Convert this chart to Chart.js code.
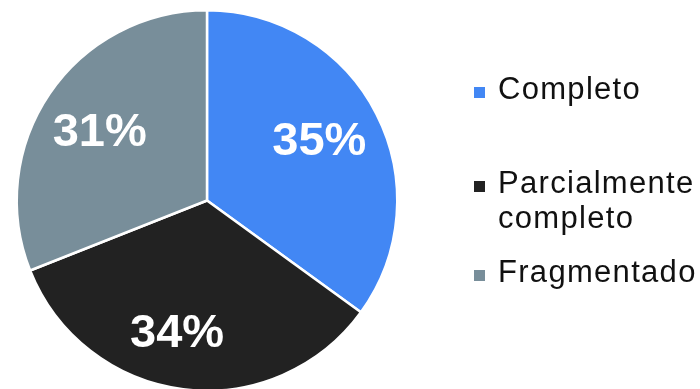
<!DOCTYPE html>
<html>
<head>
<meta charset="utf-8">
<script src="https://cdn.jsdelivr.net/npm/chart.js@4"></script>
<style>
  html, body { margin: 0; padding: 0; background: #fff; overflow: hidden; }
  #wrap { width: 700px; height: 396px; position: relative; }
</style>
</head>
<body>
<div id="wrap"><canvas id="c" width="700" height="396"></canvas></div>
<script>
const categories = ["Completo", "Parcialmente completo", "Fragmentado"];
const legendLines = [["Completo"], ["Parcialmente", "completo"], ["Fragmentado"]];
const values = [35, 34, 31];
const valueLabels = ["35%", "34%", "31%"];
const colors = ["#4287F4", "#222222", "#788E9A"];

const sliceLabels = {
  id: 'sliceLabels',
  afterDatasetsDraw(chart, args, opts) {
    const ctx = chart.ctx;
    const meta = chart.getDatasetMeta(0);
    ctx.save();
    ctx.fillStyle = '#ffffff';
    ctx.font = 'bold 47px "Liberation Sans", Arial, sans-serif';
    ctx.textAlign = 'center';
    ctx.textBaseline = 'middle';
    meta.data.forEach((arc, i) => {
      const p = arc.getProps(['x', 'y', 'startAngle', 'endAngle', 'outerRadius'], true);
      const mid = (p.startAngle + p.endAngle) / 2 + opts.angleShift[i] * Math.PI / 180;
      const r = p.outerRadius * opts.radial[i];
      ctx.fillText(valueLabels[i], p.x + Math.cos(mid) * r, p.y + Math.sin(mid) * r);
    });
    ctx.restore();
  }
};

const sideLegend = {
  id: 'sideLegend',
  afterDraw(chart, args, opts) {
    const ctx = chart.ctx;
    ctx.save();
    ctx.font = '31px "Liberation Sans", Arial, sans-serif';
    ctx.textAlign = 'left';
    ctx.textBaseline = 'alphabetic';
    if ('letterSpacing' in ctx) ctx.letterSpacing = '1.3px';
    legendLines.forEach((lines, i) => {
      const base = opts.baselines[i];
      ctx.fillStyle = colors[i];
      ctx.fillRect(opts.boxX, base - 12, 11, 11);
      ctx.fillStyle = '#111111';
      lines.forEach((t, j) => {
        ctx.fillText(t, opts.textX, base + j * opts.lineGap);
      });
    });
    ctx.restore();
  }
};

new Chart(document.getElementById('c'), {
  type: 'pie',
  data: {
    labels: categories,
    datasets: [{
      data: values,
      backgroundColor: colors,
      borderColor: '#ffffff',
      borderWidth: 2.5
    }]
  },
  options: {
    responsive: false,
    animation: false,
    layout: { padding: { left: 15, right: 301, top: 9, bottom: 4 } },
    plugins: {
      legend: { display: false },
      tooltip: { enabled: false },
      sliceLabels: { radial: [0.666, 0.72, 0.665], angleShift: [-0.6, 5.4, -2.2] },
      sideLegend: { boxX: 474, textX: 498, baselines: [99, 193, 282], lineGap: 35 }
    }
  },
  plugins: [sliceLabels, sideLegend]
});
</script>
</body>
</html>
